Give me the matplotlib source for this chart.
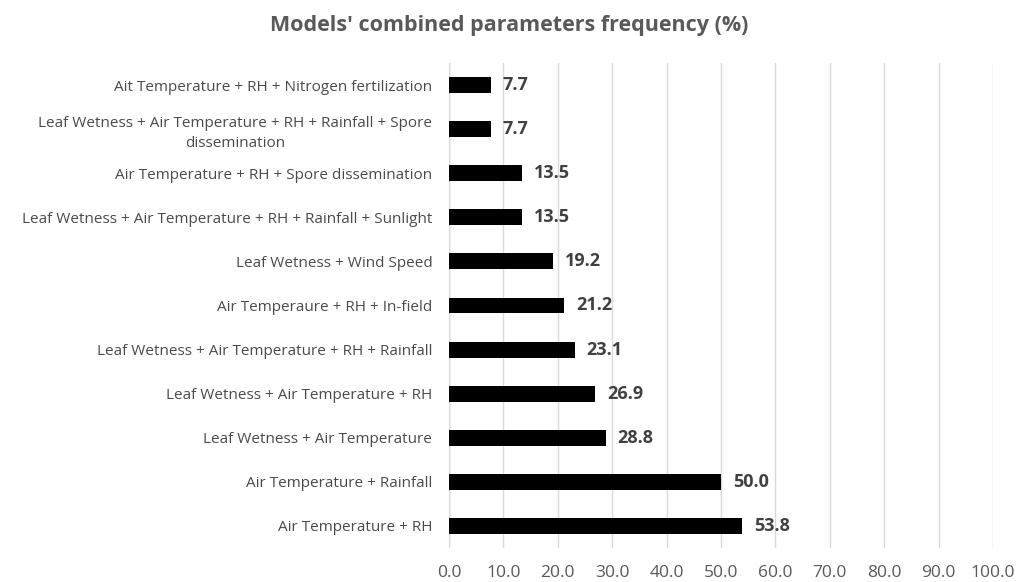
import matplotlib
matplotlib.use('Agg')
import matplotlib.pyplot as plt

# bottom to top, as drawn
categories = [
    "Air Temperature + RH",
    "Air Temperature + Rainfall",
    "Leaf Wetness + Air Temperature",
    "Leaf Wetness + Air Temperature + RH",
    "Leaf Wetness + Air Temperature + RH + Rainfall",
    "Air Temperaure + RH + In-field",
    "Leaf Wetness + Wind Speed",
    "Leaf Wetness + Air Temperature + RH + Rainfall + Sunlight",
    "Air Temperature + RH + Spore dissemination",
    "Leaf Wetness + Air Temperature + RH + Rainfall + Spore\ndissemination",
    "Ait Temperature + RH + Nitrogen fertilization",
]
values = [53.8, 50.0, 28.8, 26.9, 23.1, 21.2, 19.2, 13.5, 13.5, 7.7, 7.7]
xticks = [0, 10, 20, 30, 40, 50, 60, 70, 80, 90, 100]

plt.rcParams['font.family'] = ['Open Sans', 'DejaVu Sans']

fig = plt.figure(figsize=(10.19, 5.82), dpi=100)
ax = fig.add_axes([449 / 1019, 1 - 548 / 582, (993 - 449) / 1019, (548 - 63) / 582])

ypos = list(range(len(categories)))
ax.barh(ypos, values, height=0.36, color='black', zorder=3)

for y, v in zip(ypos, values):
    ax.text(v + 2.2, y, f"{v:.1f}", va='center', ha='left', fontsize=13,
            fontweight='bold', color='#404040')

ax.set_xlim(0, 100)
ax.set_ylim(-0.5, 10.5)
ax.set_xticks(xticks)
ax.set_xticklabels([f"{t:.1f}" for t in xticks], fontsize=12.5, color='#595959')
ax.set_yticks(ypos)
ax.set_yticklabels(categories, fontsize=11, color='#4a4a4a', ha='right',
                   multialignment='center', linespacing=1.45)
ax.tick_params(axis='both', length=0)
ax.tick_params(axis='x', pad=12)
ax.tick_params(axis='y', pad=12)

ax.grid(axis='x', color='#d9d9d9', linewidth=1, zorder=0)
for s in ax.spines.values():
    s.set_visible(False)
ax.axvline(0, color='#bfbfbf', linewidth=1, zorder=1)

fig.text(0.5, 1 - 26 / 582, "Models' combined parameters frequency (%)",
         ha='center', va='center', fontsize=15.5, fontweight='bold', color='#595959')

fig.savefig('out.png', dpi=100)
